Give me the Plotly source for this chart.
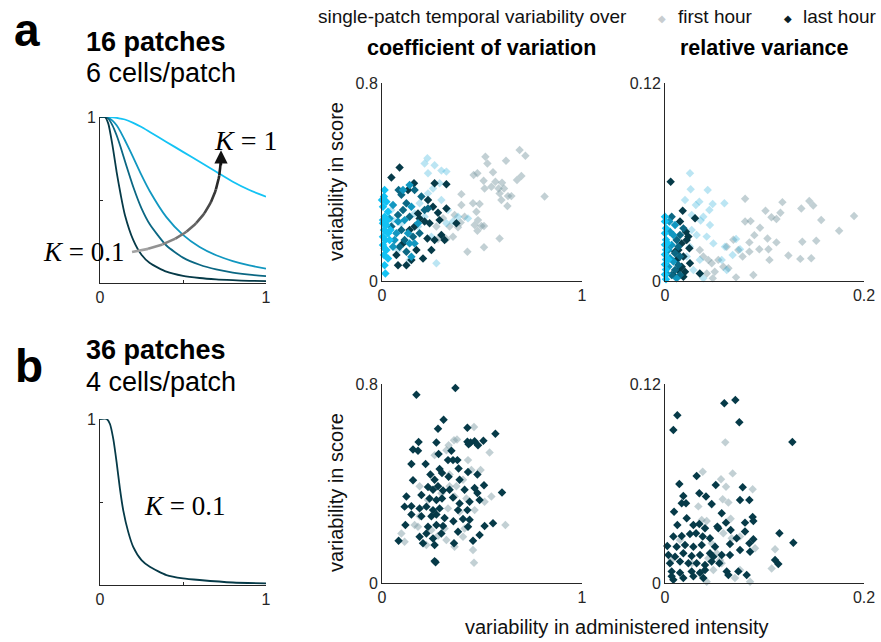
import numpy as np
import plotly.graph_objects as go

W, H = 881, 642

# ---------------- data ----------------
curve_x = [0, 0.03, 0.05, 0.075, 0.1, 0.125, 0.15, 0.2, 0.25, 0.3, 0.4, 0.5, 0.6, 0.7, 0.8, 0.9, 1.0]
curve_k01 = [1, 1, 0.96, 0.83, 0.67, 0.53, 0.41, 0.26, 0.17, 0.12, 0.068, 0.043, 0.030, 0.022, 0.017, 0.013, 0.011]
curve_k02 = [1, 1, 0.99, 0.95, 0.89, 0.816, 0.735, 0.58, 0.45, 0.354, 0.226, 0.153, 0.110, 0.082, 0.063, 0.050, 0.041]
curve_k03 = [1, 1, 0.996, 0.978, 0.95, 0.909, 0.86, 0.757, 0.65, 0.553, 0.397, 0.29, 0.217, 0.167, 0.132, 0.106, 0.087]
curve_k1 = [1, 1, 1, 0.998, 0.995, 0.99, 0.985, 0.965, 0.94, 0.91, 0.85, 0.79, 0.73, 0.67, 0.61, 0.56, 0.52]

curve_b_x = [0, 0.04, 0.06, 0.08, 0.1, 0.12, 0.14, 0.17, 0.2, 0.25, 0.3, 0.4, 0.5, 0.6, 0.8, 1.0]
curve_b_y = [1, 1, 0.97, 0.88, 0.74, 0.58, 0.45, 0.32, 0.23, 0.15, 0.11, 0.06, 0.04, 0.03, 0.015, 0.01]

# panel a, coefficient of variation
a_cv_first_k01_x = [0.688, 0.717, 0.517, 0.62, 0.527, 0.555, 0.458, 0.477, 0.508, 0.567, 0.60, 0.675, 0.697, 0.513,
                    0.547, 0.583, 0.61, 0.63, 0.647, 0.813, 0.588, 0.597, 0.627, 0.397, 0.455, 0.488, 0.397, 0.472,
                    0.363, 0.413, 0.48, 0.463, 0.497, 0.51, 0.477, 0.355, 0.588, 0.51, 0.427, 0.38, 0.393,
                    0.305, 0.272, 0.338, 0.28, 0.322]
a_cv_first_k01_y = [0.529, 0.506, 0.502, 0.486, 0.475, 0.439, 0.428, 0.435, 0.405, 0.401, 0.397, 0.408, 0.424, 0.374,
                    0.381, 0.374, 0.374, 0.343, 0.343, 0.341, 0.354, 0.327, 0.303, 0.351, 0.314, 0.311, 0.307, 0.280,
                    0.267, 0.26, 0.246, 0.226, 0.222, 0.222, 0.203, 0.179, 0.172, 0.136, 0.118, 0.217, 0.236,
                    0.254, 0.22, 0.22, 0.17, 0.17]
a_cv_first_oth_x = [0.227, 0.213, 0.263, 0.23, 0.297, 0.322, 0.288, 0.255, 0.23, 0.188, 0.297, 0.33, 0.43, 0.322,
                    0.213, 0.18, 0.247, 0.272, 0.138, 0.08, 0.047, 0.055, 0.03, 0.097, 0.163, 0.355, 0.38]
a_cv_first_oth_y = [0.496, 0.475, 0.468, 0.435, 0.446, 0.442, 0.395, 0.374, 0.354, 0.314, 0.327, 0.287, 0.253, 0.233,
                    0.26, 0.22, 0.179, 0.072, 0.085, 0.125, 0.287, 0.247, 0.193, 0.233, 0.273, 0.24, 0.26]
a_cv_last_k01_x = [0.088, 0.047, 0.263, 0.322, 0.16, 0.13, 0.23, 0.255, 0.322, 0.18, 0.188, 0.213, 0.288, 0.372,
                   0.238, 0.138, 0.297, 0.263, 0.172, 0.205, 0.147, 0.08, 0.122, 0.105, 0.28, 0.163, 0.227, 0.247,
                   0.072, 0.313]
a_cv_last_k01_y = [0.459, 0.418, 0.395, 0.391, 0.395, 0.368, 0.327, 0.30, 0.293, 0.273, 0.253, 0.24, 0.246, 0.233,
                   0.233, 0.206, 0.186, 0.166, 0.125, 0.091, 0.085, 0.064, 0.064, 0.152, 0.276, 0.22, 0.172, 0.125,
                   0.105, 0.166]
a_cv_last_k02_x = [0.083, 0.097, 0.122, 0.08, 0.138, 0.047, 0.097, 0.155, 0.113, 0.088, 0.122, 0.188, 0.197, 0.163,
                   0.23, 0.105, 0.213]
a_cv_last_k02_y = [0.368, 0.348, 0.314, 0.267, 0.26, 0.22, 0.206, 0.179, 0.166, 0.138, 0.118, 0.193, 0.341, 0.368,
                   0.293, 0.287, 0.287]
a_cv_last_k03_x = [0.105, 0.055, 0.147, 0.113, 0.072, 0.13, 0.063, 0.138, 0.055, 0.038, 0.138, 0.08, 0.18, 0.163,
                   0.147]
a_cv_last_k03_y = [0.368, 0.307, 0.30, 0.246, 0.193, 0.193, 0.166, 0.152, 0.138, 0.253, 0.388, 0.24, 0.233, 0.152,
                   0.098]
a_cv_last_k1_x = [0.013, 0.01, 0.022, 0.005, 0.03, 0.013, 0.005, 0.022, 0.01, 0.03, 0.005, 0.017, 0.038, 0.005,
                  0.022, 0.01, 0.03, 0.013, 0.017, 0.005, 0.042, 0.0, 0.027, 0.013]
a_cv_last_k1_y = [0.368, 0.341, 0.32, 0.30, 0.28, 0.26, 0.233, 0.226, 0.206, 0.193, 0.179, 0.166, 0.166, 0.145,
                  0.125, 0.105, 0.091, 0.064, 0.03, 0.246, 0.206, 0.327, 0.246, 0.131]

# panel a, relative variance
a_rv_first_k01_x = [0.19, 0.145, 0.118, 0.0805, 0.149, 0.137, 0.157, 0.175, 0.116, 0.107, 0.112, 0.101, 0.0805,
                    0.086, 0.0955, 0.0898, 0.103, 0.112, 0.138, 0.152, 0.0848, 0.0948, 0.104, 0.0848, 0.078, 0.124,
                    0.136, 0.147, 0.105, 0.0888, 0.0714, 0.0687, 0.0737, 0.062, 0.0586, 0.0536, 0.0637, 0.047,
                    0.050, 0.042, 0.0385, 0.0435, 0.048, 0.035]
a_rv_first_k01_y = [0.0394, 0.0485, 0.0478, 0.0498, 0.0457, 0.044, 0.037, 0.0305, 0.0414, 0.0386, 0.0376, 0.0426,
                    0.036, 0.0363, 0.0323, 0.0278, 0.0258, 0.0234, 0.0238, 0.0244, 0.0234, 0.0192, 0.0192, 0.0178,
                    0.0148, 0.0154, 0.0134, 0.0138, 0.0128, 0.0037, 0.0022, 0.025, 0.0188, 0.0208, 0.0087, 0.0128,
                    0.0077, 0.0107, 0.0056, 0.0046, 0.0148, 0.0128, 0.0016, 0.0188]
a_rv_first_oth_x = [0.0251, 0.0258, 0.0429, 0.0201, 0.0345, 0.0479, 0.0597, 0.031, 0.0446, 0.0268, 0.0385, 0.0358,
                    0.0452, 0.0268, 0.0318, 0.0419, 0.0486, 0.0603, 0.0714, 0.0754, 0.068, 0.057, 0.062, 0.025,
                    0.035, 0.0285, 0.0385, 0.0218]
a_rv_first_oth_y = [0.0653, 0.0556, 0.0552, 0.0491, 0.0481, 0.0467, 0.0471, 0.0461, 0.043, 0.04, 0.039, 0.0366,
                    0.0339, 0.0309, 0.0279, 0.0269, 0.0228, 0.0208, 0.0254, 0.0192, 0.0158, 0.0128, 0.0067, 0.0208,
                    0.0128, 0.0067, 0.0016, 0.0148]
a_rv_last_k01_x = [0.0057, 0.0178, 0.0302, 0.0151, 0.021, 0.0235, 0.0218, 0.0168, 0.0134, 0.0185, 0.0117, 0.0168,
                   0.035, 0.0185, 0.0084, 0.0251, 0.0101, 0.0245, 0.0134, 0.0201]
a_rv_last_k01_y = [0.0602, 0.0426, 0.038, 0.036, 0.0299, 0.0269, 0.0248, 0.0228, 0.0188, 0.0148, 0.0128, 0.0087,
                   0.0046, 0.0026, 0.0036, 0.0107, 0.0178, 0.0198, 0.0067, 0.0056]
a_rv_last_k02_x = [0.0067, 0.0117, 0.0134, 0.0101, 0.0151, 0.0134, 0.0101, 0.0067, 0.0151, 0.0151, 0.0185]
a_rv_last_k02_y = [0.039, 0.0248, 0.0208, 0.0168, 0.0148, 0.0097, 0.0067, 0.0036, 0.0036, 0.0279, 0.0319]
a_rv_last_k03_x = [0.0101, 0.005, 0.0067, 0.0034, 0.005, 0.0084, 0.0034, 0.0017, 0.0117, 0.0084, 0.0044]
a_rv_last_k03_y = [0.0339, 0.0299, 0.0218, 0.0188, 0.0138, 0.0118, 0.0087, 0.0046, 0.0016, 0.0279, 0.036]
a_rv_last_k1_x = [0.0, 0.0, 0.001, 0.0, 0.001, 0.0, 0.001, 0.0, 0.001, 0.0, 0.001, 0.0, 0.001, 0.0034, 0.0024]
a_rv_last_k1_y = [0.039, 0.036, 0.032, 0.029, 0.025, 0.022, 0.019, 0.016, 0.013, 0.010, 0.007, 0.004, 0.001, 0.013,
                  0.023]

# panel b, coefficient of variation
b_cv_first_x = [0.46, 0.538, 0.333, 0.36, 0.375, 0.263, 0.322, 0.447, 0.493, 0.338, 0.188, 0.372, 0.338, 0.422,
                0.547, 0.513, 0.363, 0.33, 0.388, 0.463, 0.188, 0.163, 0.18, 0.617, 0.247, 0.313, 0.413, 0.097,
                0.113, 0.222, 0.363, 0.455, 0.322, 0.405, 0.46, 0.28, 0.23, 0.297, 0.405, 0.43]
b_cv_first_y = [0.627, 0.525, 0.554, 0.574, 0.577, 0.514, 0.534, 0.454, 0.454, 0.436, 0.389, 0.389, 0.389, 0.34,
                0.348, 0.327, 0.348, 0.30, 0.286, 0.293, 0.268, 0.233, 0.226, 0.233, 0.213, 0.219, 0.219, 0.199,
                0.166, 0.153, 0.146, 0.133, 0.173, 0.186, 0.081, 0.19, 0.334, 0.361, 0.415, 0.494]
b_cv_last_x = [0.172, 0.367, 0.308, 0.28, 0.427, 0.567, 0.183, 0.272, 0.427, 0.443, 0.463, 0.48, 0.507, 0.433,
               0.155, 0.18, 0.283, 0.347, 0.355, 0.33, 0.377, 0.147, 0.218, 0.288, 0.30, 0.383, 0.43, 0.477,
               0.242, 0.263, 0.155, 0.333, 0.388, 0.51, 0.23, 0.255, 0.28, 0.305, 0.338, 0.413, 0.463, 0.477,
               0.122, 0.197, 0.238, 0.272, 0.30, 0.355, 0.388, 0.438, 0.488, 0.60, 0.113, 0.147, 0.188, 0.222,
               0.255, 0.288, 0.38, 0.427, 0.147, 0.197, 0.247, 0.272, 0.313, 0.357, 0.405, 0.438, 0.555, 0.513,
               0.117, 0.23, 0.272, 0.305, 0.38, 0.43, 0.488, 0.188, 0.222, 0.255, 0.297, 0.455, 0.083, 0.205,
               0.263, 0.36, 0.263, 0.268]
b_cv_last_y = [0.757, 0.784, 0.656, 0.62, 0.624, 0.60, 0.567, 0.565, 0.568, 0.565, 0.57, 0.554, 0.572, 0.558,
               0.537, 0.532, 0.519, 0.532, 0.494, 0.494, 0.494, 0.478, 0.478, 0.458, 0.442, 0.46, 0.446, 0.436,
               0.436, 0.415, 0.413, 0.427, 0.415, 0.393, 0.386, 0.375, 0.389, 0.372, 0.375, 0.375, 0.382, 0.362,
               0.348, 0.354, 0.34, 0.334, 0.34, 0.344, 0.32, 0.327, 0.334, 0.364, 0.307, 0.309, 0.30, 0.307,
               0.293, 0.30, 0.293, 0.293, 0.275, 0.268, 0.268, 0.275, 0.261, 0.248, 0.257, 0.254, 0.24, 0.229,
               0.233, 0.226, 0.233, 0.229, 0.206, 0.226, 0.193, 0.186, 0.199, 0.179, 0.199, 0.17, 0.17, 0.16,
               0.153, 0.16, 0.088, 0.083]

# panel b, relative variance
b_rv_first_x = [0.0606, 0.0379, 0.068, 0.0563, 0.0613, 0.0881, 0.0335, 0.058, 0.0637, 0.0469, 0.0419, 0.066,
                0.0369, 0.0754, 0.0586, 0.067, 0.0905, 0.1106, 0.1072, 0.0469, 0.052, 0.057, 0.0486, 0.0754,
                0.0855, 0.0435, 0.0553, 0.0151, 0.0067, 0.0268, 0.0419, 0.0703, 0.0352]
b_rv_first_y = [0.0848, 0.0671, 0.0661, 0.0625, 0.0581, 0.0565, 0.0462, 0.0505, 0.0485, 0.0473, 0.0374, 0.0388,
                0.038, 0.028, 0.030, 0.027, 0.0209, 0.0203, 0.0088, 0.0239, 0.0179, 0.0119, 0.0078, 0.0078,
                0.0008, 0.0149, 0.0139, 0.026, 0.0139, 0.0119, 0.0008, 0.003, 0.0058]
b_rv_last_x = [0.0124, 0.0084, 0.0596, 0.0707, 0.0747, 0.128, 0.0318, 0.0144, 0.051, 0.0781, 0.0184, 0.0345,
               0.0412, 0.0168, 0.0211, 0.0754, 0.0848, 0.0469, 0.0091, 0.057, 0.0218, 0.0124, 0.0285, 0.0345,
               0.0402, 0.0526, 0.0613, 0.0804, 0.0881, 0.0888, 0.0084, 0.0168, 0.0251, 0.0312, 0.0379, 0.0452,
               0.0536, 0.066, 0.072, 0.0804, 0.0888, 0.115, 0.0023, 0.0117, 0.0201, 0.0285, 0.0369, 0.0503,
               0.0653, 0.0754, 0.0848, 0.0855, 0.129, 0.0034, 0.0101, 0.0184, 0.0268, 0.0352, 0.0452, 0.0486,
               0.057, 0.0653, 0.005, 0.0151, 0.0235, 0.0318, 0.0402, 0.0469, 0.0546, 0.1106, 0.1139, 0.0067,
               0.0151, 0.0268, 0.0352, 0.0402, 0.062, 0.0737, 0.0821, 0.0084, 0.0184, 0.0285, 0.0385, 0.0637,
               0.0067]
b_rv_last_y = [0.1011, 0.0923, 0.1084, 0.1104, 0.0969, 0.085, 0.0645, 0.0597, 0.0591, 0.0577, 0.0525, 0.0541,
               0.0521, 0.0481, 0.0481, 0.0501, 0.0501, 0.0477, 0.043, 0.042, 0.039, 0.035, 0.035, 0.0356,
               0.033, 0.034, 0.0364, 0.0364, 0.0398, 0.0374, 0.028, 0.0284, 0.0296, 0.030, 0.028, 0.027,
               0.033, 0.032, 0.027, 0.031, 0.0264, 0.030, 0.0223, 0.0219, 0.0229, 0.0219, 0.0229, 0.0219,
               0.0235, 0.0199, 0.0239, 0.0189, 0.0243, 0.0169, 0.0159, 0.0179, 0.0163, 0.0169, 0.0179, 0.0159,
               0.0169, 0.0169, 0.0119, 0.0129, 0.0119, 0.0119, 0.0109, 0.0129, 0.0119, 0.0139, 0.0115, 0.007,
               0.0062, 0.007, 0.0062, 0.0078, 0.007, 0.007, 0.0048, 0.002, 0.003, 0.004, 0.003, 0.0048,
               0.004]

# ---------------- style ----------------
C_K01 = "#063a48"
C_K02 = "#0b6783"
C_K03 = "#1197c0"
C_K1 = "#14c3f4"
C_FIRST_K01 = "rgba(120,150,160,0.45)"
C_FIRST_OTH = "rgba(60,180,222,0.35)"
AXC = "#262626"
FONT = "Liberation Sans, Arial, sans-serif"
SERIF = "Liberation Serif, Times New Roman, serif"


def px_x(p):
    return p / W


def px_y(p):
    return 1 - p / H


fig = go.Figure()

boxes = {
    1: (100, 266, 117, 283),
    2: (382, 582, 83, 281),
    3: (665, 864, 83, 281),
    4: (100, 266, 419, 585),
    5: (382, 582, 384, 583),
    6: (665, 864, 384, 583),
}
ranges = {
    1: ([0, 1], [0, 1]),
    2: ([0, 1], [0, 0.8]),
    3: ([0, 0.2], [0, 0.12]),
    4: ([0, 1], [0, 1]),
    5: ([0, 1], [0, 0.8]),
    6: ([0, 0.2], [0, 0.12]),
}
xticks = {
    1: ([0, 0.5, 1], ["0", "", "1"]),
    2: ([0, 1], ["0", "1"]),
    3: ([0, 0.2], ["0", "0.2"]),
    4: ([0, 0.5, 1], ["0", "", "1"]),
    5: ([0, 1], ["0", "1"]),
    6: ([0, 0.2], ["0", "0.2"]),
}
yticks = {
    1: ([0, 0.5, 1], ["", "", "1"]),
    2: ([0, 0.8], ["0", "0.8"]),
    3: ([0, 0.12], ["0", "0.12"]),
    4: ([0, 0.5, 1], ["", "", "1"]),
    5: ([0, 0.8], ["0", "0.8"]),
    6: ([0, 0.12], ["0", "0.12"]),
}

layout_axes = {}
for i, (x0, x1, y0, y1) in boxes.items():
    xn = "xaxis" if i == 1 else f"xaxis{i}"
    yn = "yaxis" if i == 1 else f"yaxis{i}"
    xa = "x" if i == 1 else f"x{i}"
    ya = "y" if i == 1 else f"y{i}"
    common = dict(showline=True, linecolor=AXC, linewidth=1, showgrid=False, zeroline=False,
                  ticks="inside", ticklen=3, tickcolor=AXC, mirror=False,
                  tickfont=dict(family=FONT, size=16, color=AXC), fixedrange=True)
    layout_axes[xn] = dict(domain=[px_x(x0), px_x(x1)], range=ranges[i][0], anchor=ya,
                           tickvals=xticks[i][0], ticktext=xticks[i][1], **common)
    layout_axes[yn] = dict(domain=[px_y(y1), px_y(y0)], range=ranges[i][1], anchor=xa,
                           tickvals=yticks[i][0], ticktext=yticks[i][1], **common)


def line(x, y, color, ax):
    fig.add_trace(go.Scatter(x=x, y=y, mode="lines", line=dict(color=color, width=1.8, shape="spline", smoothing=0.6),
                             xaxis=ax[0], yaxis=ax[1], showlegend=False, hoverinfo="skip"))


def pts(x, y, color, ax):
    fig.add_trace(go.Scatter(x=x, y=y, mode="markers",
                             marker=dict(symbol="diamond", size=6.5, color=color, line=dict(width=0)),
                             xaxis=ax[0], yaxis=ax[1], showlegend=False, cliponaxis=False, hoverinfo="skip"))


# panel a curves
line(curve_x, curve_k1, C_K1, ("x", "y"))
line(curve_x, curve_k03, C_K03, ("x", "y"))
line(curve_x, curve_k02, C_K02, ("x", "y"))
line(curve_x, curve_k01, C_K01, ("x", "y"))

# gradient arrow (decoration) as quadratic bezier split into segments
P0 = np.array([0.193, 0.187]); Cc = np.array([0.70, 0.26]); P2 = np.array([0.729, 0.74])
nseg = 10
for s in range(nseg):
    t = np.linspace(s / nseg, (s + 1) / nseg, 6)
    bx = (1 - t) ** 2 * P0[0] + 2 * (1 - t) * t * Cc[0] + t ** 2 * P2[0]
    by = (1 - t) ** 2 * P0[1] + 2 * (1 - t) * t * Cc[1] + t ** 2 * P2[1]
    g = int(170 - 150 * (s + 0.5) / nseg)
    fig.add_trace(go.Scatter(x=bx, y=by, mode="lines", line=dict(color=f"rgb({g},{g},{g})", width=2.6),
                             xaxis="x", yaxis="y", showlegend=False, hoverinfo="skip"))

# panel a scatter: coefficient of variation
pts(a_cv_first_k01_x, a_cv_first_k01_y, C_FIRST_K01, ("x2", "y2"))
pts(a_cv_first_oth_x, a_cv_first_oth_y, C_FIRST_OTH, ("x2", "y2"))
pts(a_cv_last_k01_x, a_cv_last_k01_y, C_K01, ("x2", "y2"))
pts(a_cv_last_k02_x, a_cv_last_k02_y, C_K02, ("x2", "y2"))
pts(a_cv_last_k03_x, a_cv_last_k03_y, C_K03, ("x2", "y2"))
pts(a_cv_last_k1_x, a_cv_last_k1_y, C_K1, ("x2", "y2"))

# panel a scatter: relative variance
pts(a_rv_first_k01_x, a_rv_first_k01_y, C_FIRST_K01, ("x3", "y3"))
pts(a_rv_first_oth_x, a_rv_first_oth_y, C_FIRST_OTH, ("x3", "y3"))
pts(a_rv_last_k01_x, a_rv_last_k01_y, C_K01, ("x3", "y3"))
pts(a_rv_last_k02_x, a_rv_last_k02_y, C_K02, ("x3", "y3"))
pts(a_rv_last_k03_x, a_rv_last_k03_y, C_K03, ("x3", "y3"))
pts(a_rv_last_k1_x, a_rv_last_k1_y, C_K1, ("x3", "y3"))

# panel b
line(curve_b_x, curve_b_y, C_K01, ("x4", "y4"))
pts(b_cv_first_x, b_cv_first_y, C_FIRST_K01, ("x5", "y5"))
pts(b_cv_last_x, b_cv_last_y, C_K01, ("x5", "y5"))
pts(b_rv_first_x, b_rv_first_y, C_FIRST_K01, ("x6", "y6"))
pts(b_rv_last_x, b_rv_last_y, C_K01, ("x6", "y6"))

ann = []


def txt(text, x, y, size, bold=False, color="#000000", family=FONT, angle=0, xanchor="center"):
    t = f"<b>{text}</b>" if bold else text
    ann.append(dict(text=t, x=px_x(x), y=px_y(y), xref="paper", yref="paper", showarrow=False,
                    font=dict(family=family, size=size, color=color), xanchor=xanchor, yanchor="middle",
                    textangle=angle, borderpad=0))


txt("a", 27, 30, 46, bold=True)
txt("b", 29, 366, 46, bold=True)
txt("16 patches", 85, 42, 27, bold=True, xanchor="left")
txt("6 cells/patch", 85, 73, 27, xanchor="left")
txt("36 patches", 85, 350, 27, bold=True, xanchor="left")
txt("4 cells/patch", 85, 382, 27, xanchor="left")
txt("single-patch temporal variability over", 317, 17, 19, xanchor="left", color="#111111")
txt("first hour", 677, 17, 19, xanchor="left", color="#111111")
txt("last hour", 802, 17, 19, xanchor="left", color="#111111")
txt("\u25c6", 662, 18, 10, color="#c8cdd0", family="DejaVu Sans")
txt("\u25c6", 788, 18, 10, color="#0a1e26", family="DejaVu Sans")
txt("coefficient of variation", 481, 48, 21.5, bold=True)
txt("relative variance", 764, 48, 21.5, bold=True)
txt("variability in score", 336, 182, 20, angle=-90, color="#111111")
txt("variability in score", 336, 493, 20, angle=-90, color="#111111")
txt("variability in administered intensity", 616, 627, 20, color="#111111")
txt("<i>K</i> = 1", 245, 140, 28, family=SERIF)
txt("<i>K</i> = 0.1", 84, 252, 27, family=SERIF)
txt("<i>K</i> = 0.1", 185, 506, 27, family=SERIF)

# arrow head
ann.append(dict(x=0.729, y=0.80, ax=0.729, ay=0.70, xref="x", yref="y", axref="x", ayref="y",
                showarrow=True, arrowhead=2, arrowsize=1.1, arrowwidth=2.4, arrowcolor="#111111", text=""))

fig.update_layout(width=W, height=H, margin=dict(l=0, r=0, t=0, b=0, autoexpand=False), plot_bgcolor="white",
                  paper_bgcolor="white", showlegend=False, annotations=ann, **layout_axes)

fig.write_html("out.html", config={"displayModeBar": False, "staticPlot": True},
               post_script="document.body.style.margin='0px';document.body.style.overflow='hidden';")
